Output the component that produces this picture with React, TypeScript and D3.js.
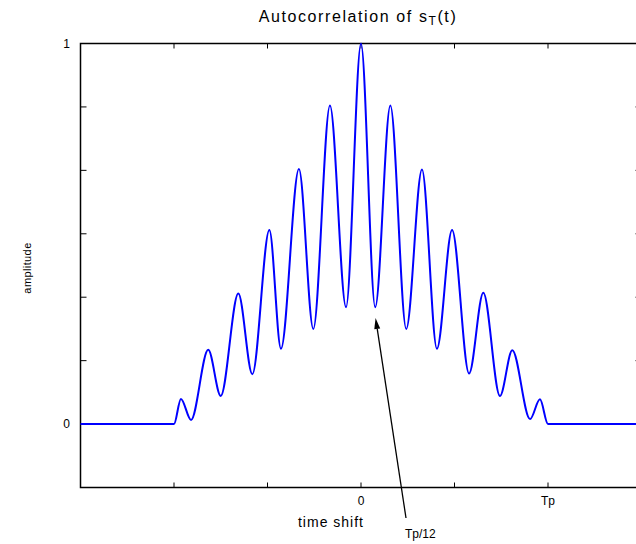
import React from "react";
import * as d3 from "d3";

// time shift in units of Tp
const lagTp = [-1.5, -1.0, -0.963, -0.909, -0.817, -0.75, -0.656, -0.581, -0.49, -0.428, -0.332, -0.255, -0.166, -0.08, 0, 0.076, 0.157, 0.242, 0.326, 0.406, 0.487, 0.578, 0.654, 0.743, 0.809, 0.904, 0.957, 1.0, 1.5];
const amplitude = [0, 0, 0.066, 0.011, 0.195, 0.074, 0.343, 0.131, 0.51, 0.198, 0.67, 0.25, 0.837, 0.307, 1.0, 0.307, 0.837, 0.25, 0.669, 0.198, 0.51, 0.133, 0.345, 0.074, 0.194, 0.013, 0.065, 0, 0];

const xTickValues = [-1.5, -1, -0.5, 0, 0.5, 1, 1.5];
const xTickLabels = ["", "", "", "0", "", "Tp", ""];
const yTickValues = [-1 / 6, 0, 1 / 6, 2 / 6, 3 / 6, 4 / 6, 5 / 6, 1];
const yTickLabels = ["", "0", "", "", "", "", "", "1"];

const annotationLag = 1 / 12;
const annotationAmp = 0.28;
const annotationText = "Tp/12";

export default function App() {
  const W = 636, H = 544;
  const left = 80.5, right = 641.5, top = 43.5, bottom = 487.5;
  const x = d3.scaleLinear().domain([-1.5, 1.5]).range([left, right]);
  const y = d3.scaleLinear().domain([-1 / 6, 1]).range([bottom, top]);
  const data = lagTp.map((t, i) => [t, amplitude[i]] as [number, number]);
  const line = d3.line<[number, number]>().x(d => x(d[0])).y(d => y(d[1])).curve(d3.curveMonotoneX);
  const tl = 5;
  const font = "'Liberation Sans', Arial, sans-serif";

  // arrow
  const tipX = x(annotationLag) - 1, tipY = y(annotationAmp) + 0.5;
  const tailX = 406, tailY = 518;
  const ang = Math.atan2(tipY - tailY, tipX - tailX);
  const ah = 11, aw = 3;
  const bx = tipX - ah * Math.cos(ang), by = tipY - ah * Math.sin(ang);
  const px = -Math.sin(ang) * aw, py = Math.cos(ang) * aw;

  return (
    <div style={{ position: "absolute", left: 0, top: 0 }}>
      <svg width={W} height={H} style={{ display: "block", background: "#fff" }} fontFamily={font}>
        <rect x={0} y={0} width={W} height={H} fill="#fff" />
        <text x={358} y={22} fontSize={16} textAnchor="middle" fill="#000" letterSpacing={1.6}>
          Autocorrelation of s<tspan dy={3} fontSize={12}>T</tspan><tspan dy={-3}>(t)</tspan>
        </text>
        {/* frame */}
        <rect x={left} y={top} width={right - left} height={bottom - top} fill="none" stroke="#000" strokeWidth={1.5} />
        {/* x ticks */}
        {xTickValues.map((v, i) => (
          <g key={"xt" + i}>
            <line x1={x(v)} x2={x(v)} y1={bottom} y2={bottom - tl} stroke="#000" strokeWidth={1} />
            <line x1={x(v)} x2={x(v)} y1={top} y2={top + tl} stroke="#000" strokeWidth={1} />
            {xTickLabels[i] && (
              <text x={x(v)} y={505} fontSize={12} textAnchor="middle" fill="#000">{xTickLabels[i]}</text>
            )}
          </g>
        ))}
        {/* y ticks */}
        {yTickValues.map((v, i) => (
          <g key={"yt" + i}>
            <line x1={left} x2={left + tl + 1} y1={y(v)} y2={y(v)} stroke="#000" strokeWidth={1} />
            <line x1={right} x2={right - tl - 1} y1={y(v)} y2={y(v)} stroke="#000" strokeWidth={1} />
            {yTickLabels[i] && (
              <text x={70} y={y(v) + 4} fontSize={12} textAnchor="end" fill="#000">{yTickLabels[i]}</text>
            )}
          </g>
        ))}
        <text x={331} y={527} fontSize={14} textAnchor="middle" fill="#000" letterSpacing={1}>time shift</text>
        <text transform="translate(31,268) rotate(-90)" fontSize={11} textAnchor="middle" fill="#000" letterSpacing={0.4}>amplitude</text>
        <path d={line(data) || ""} fill="none" stroke="#0000ff" strokeWidth={2} />
        {/* annotation */}
        <line x1={tailX} y1={tailY} x2={bx} y2={by} stroke="#000" strokeWidth={1.3} />
        <path d={`M${tipX},${tipY} L${bx + px},${by + py} L${bx - px},${by - py} Z`} fill="#000" />
        <text x={405} y={538} fontSize={12} fill="#000">{annotationText}</text>
      </svg>
    </div>
  );
}
